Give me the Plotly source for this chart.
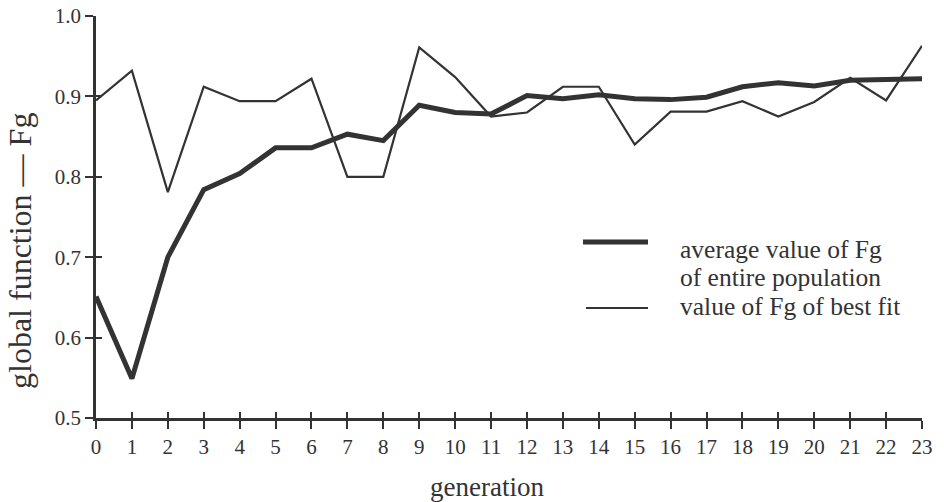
import plotly.graph_objects as go

generations = list(range(24))
avg_fg = [0.651, 0.549, 0.700, 0.784, 0.804, 0.836, 0.836, 0.853, 0.845, 0.889,
          0.880, 0.878, 0.901, 0.897, 0.902, 0.897, 0.896, 0.899, 0.912, 0.917,
          0.913, 0.920, 0.921, 0.922]
best_fg = [0.895, 0.932, 0.781, 0.912, 0.894, 0.894, 0.922, 0.800, 0.800, 0.961,
           0.924, 0.875, 0.880, 0.912, 0.912, 0.840, 0.881, 0.881, 0.894, 0.875,
           0.893, 0.923, 0.895, 0.963]
y_ticks = [0.5, 0.6, 0.7, 0.8, 0.9, 1.0]
y_tick_labels = ["0.5", "0.6", "0.7", "0.8", "0.9", "1.0"]
legend_avg = ["average value of Fg", "of entire population"]
legend_best = "value of Fg of best fit"

INK = "#333333"
FONT = "Liberation Serif, Times New Roman, serif"
W, H = 944, 502
L, R, T, B = 96, 22, 16, 84
PW, PH = W - L - R, H - T - B


def px(x):
    return (x - L) / PW


def py(y):
    return (H - B - y) / PH


fig = go.Figure()
fig.add_trace(go.Scatter(x=generations, y=avg_fg, mode="lines",
                         line=dict(color=INK, width=5), cliponaxis=False,
                         showlegend=False, hoverinfo="skip"))
fig.add_trace(go.Scatter(x=generations, y=best_fg, mode="lines",
                         line=dict(color=INK, width=2.2), cliponaxis=False,
                         xaxis="x2", yaxis="y2",
                         showlegend=False, hoverinfo="skip"))

axis_common = dict(showgrid=False, zeroline=False, tickcolor=INK, tickwidth=2,
                   automargin=False)

fig.update_layout(
    width=W, height=H,
    margin=dict(l=L, r=R, t=T, b=B, pad=0, autoexpand=False),
    paper_bgcolor="white", plot_bgcolor="white",
    font=dict(family=FONT, color=INK, size=21),
    xaxis=dict(range=[0, 23], tickvals=generations,
               ticktext=[str(g) for g in generations],
               ticks="outside", ticklen=8, showline=True, linecolor=INK,
               linewidth=2.5, tickfont=dict(size=21, family=FONT, color=INK),
               **axis_common),
    yaxis=dict(range=[0.5, 1.0], tickvals=y_ticks, ticktext=y_tick_labels,
               ticks="outside", ticklen=8, showline=True, linecolor=INK,
               linewidth=2.5, tickfont=dict(size=21, family=FONT, color=INK),
               **axis_common),
    xaxis2=dict(range=[0, 23], tickvals=generations, overlaying="x",
                ticks="inside", ticklen=6, showticklabels=False, showline=False,
                anchor="y2", **axis_common),
    yaxis2=dict(range=[0.5, 1.0], tickvals=y_ticks, overlaying="y",
                ticks="inside", ticklen=6, showticklabels=False, showline=False,
                anchor="x2", **axis_common),
)

annotations = [
    dict(text="generation", x=px(487), y=py(487), xref="paper", yref="paper",
         showarrow=False, xanchor="center", yanchor="middle",
         font=dict(size=27, family=FONT, color=INK)),
    dict(text="global function \u2014 Fg", x=px(20), y=py(251), xref="paper",
         yref="paper", showarrow=False, textangle=-90, xanchor="center",
         yanchor="middle", font=dict(size=32, family=FONT, color=INK)),
]
for txt, yc in zip(legend_avg + [legend_best], [249, 277, 306]):
    annotations.append(dict(text=txt, x=px(678), y=py(yc), xref="paper",
                            yref="paper", showarrow=False, xanchor="left",
                            yanchor="middle",
                            font=dict(size=25.5, family=FONT, color=INK)))
fig.update_layout(annotations=annotations)

fig.add_shape(type="line", xref="paper", yref="paper",
              x0=px(583), x1=px(648), y0=py(242), y1=py(242),
              line=dict(color=INK, width=5))
fig.add_shape(type="line", xref="paper", yref="paper",
              x0=px(586), x1=px(648), y0=py(308), y1=py(308),
              line=dict(color=INK, width=2.2))

fig.write_html(
    "out.html",
    config={"displayModeBar": False},
    post_script="document.body.style.margin='0';document.body.style.padding='0';"
                "document.body.style.overflow='hidden';",
)
